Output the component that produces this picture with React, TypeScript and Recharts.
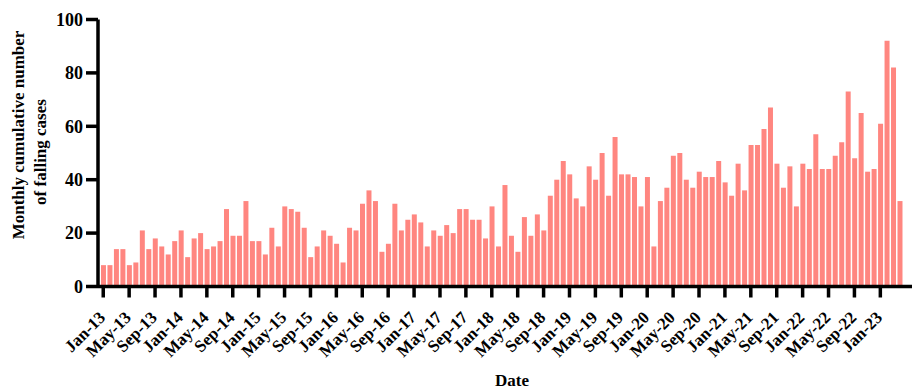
import React from "react";
import { BarChart, Bar, XAxis, YAxis } from "recharts";

const monthNames = ["Jan", "Feb", "Mar", "Apr", "May", "Jun", "Jul", "Aug", "Sep", "Oct", "Nov", "Dec"];
const years = ["13", "14", "15", "16", "17", "18", "19", "20", "21", "22", "23"];

const cases = [
  8, 8, 14, 14, 8, 9, 21, 14, 18, 15, 12, 17,
  21, 11, 18, 20, 14, 15, 17, 29, 19, 19, 32, 17,
  17, 12, 22, 15, 30, 29, 28, 22, 11, 15, 21, 19,
  16, 9, 22, 21, 31, 36, 32, 13, 16, 31, 21, 25,
  27, 24, 15, 21, 19, 23, 20, 29, 29, 25, 25, 18,
  30, 15, 38, 19, 13, 26, 19, 27, 21, 34, 40, 47,
  42, 33, 30, 45, 40, 50, 34, 56, 42, 42, 41, 30,
  41, 15, 32, 37, 49, 50, 40, 37, 43, 41, 41, 47,
  39, 34, 46, 36, 53, 53, 59, 67, 46, 37, 45, 30,
  46, 44, 57, 44, 44, 49, 54, 73, 48, 65, 43, 44,
  61, 92, 82, 32,
];

const yTicks = [0, 20, 40, 60, 80, 100];

const data = cases.map((v, i) => ({
  month: `${monthNames[i % 12]}-${years[Math.floor(i / 12)]}`,
  value: v,
}));

const FONT = "'Liberation Serif', 'Times New Roman', serif";

const XTick = (props: any) => {
  const { x, y, payload } = props;
  return (
    <g transform={`translate(${x + 3},${y + 19}) rotate(-45)`}>
      <text
        x={0}
        y={0}
        textAnchor="end"
        fontFamily={FONT}
        fontWeight="bold"
        fontSize={17}
        fill="#000"
      >
        {payload.value}
      </text>
    </g>
  );
};

const YLabel = () => (
  <g>
    <text
      x={18.5}
      y={135}
      transform="rotate(-90, 18.5, 135)"
      textAnchor="middle"
      dominantBaseline="central"
      fontFamily={FONT}
      fontWeight="bold"
      fontSize={17}
      fill="#000"
    >
      Monthly cumulative number
    </text>
    <text
      x={40}
      y={152}
      transform="rotate(-90, 40, 152)"
      textAnchor="middle"
      dominantBaseline="central"
      fontFamily={FONT}
      fontWeight="bold"
      fontSize={17}
      fill="#000"
    >
      of falling cases
    </text>
  </g>
);

export default function App() {
  return (
    <div style={{ position: "absolute", left: 0, top: 0, width: 917, height: 389, background: "#fff" }}>
      <BarChart
        width={917}
        height={389}
        data={data}
        margin={{ top: 19.5, right: 5, left: 0, bottom: 0 }}
        barCategoryGap="15%"
      >
        <XAxis
          dataKey="month"
          interval={3}
          tick={<XTick />}
          tickSize={11}
          axisLine={{ stroke: "#000", strokeWidth: 3.5 }}
          tickLine={{ stroke: "#000", strokeWidth: 3.5 }}
          padding={{ left: 2, right: 9 }}
          height={102.5}
          label={{
            value: "Date",
            position: "insideBottom",
            offset: 3,
            dx: 7,
            fontFamily: FONT,
            fontWeight: "bold",
            fontSize: 17,
            fill: "#000",
          }}
        />
        <YAxis
          domain={[0, 100]}
          ticks={yTicks}
          width={98}
          tickSize={12}
          tickMargin={3}
          axisLine={{ stroke: "#000", strokeWidth: 3.5 }}
          tickLine={{ stroke: "#000", strokeWidth: 3.5 }}
          tick={{ fontFamily: FONT, fontWeight: "bold", fontSize: 18, fill: "#000" }}
          label={<YLabel />}
        />
        <Bar dataKey="value" fill="#FF8680" isAnimationActive={false} />
      </BarChart>
    </div>
  );
}
